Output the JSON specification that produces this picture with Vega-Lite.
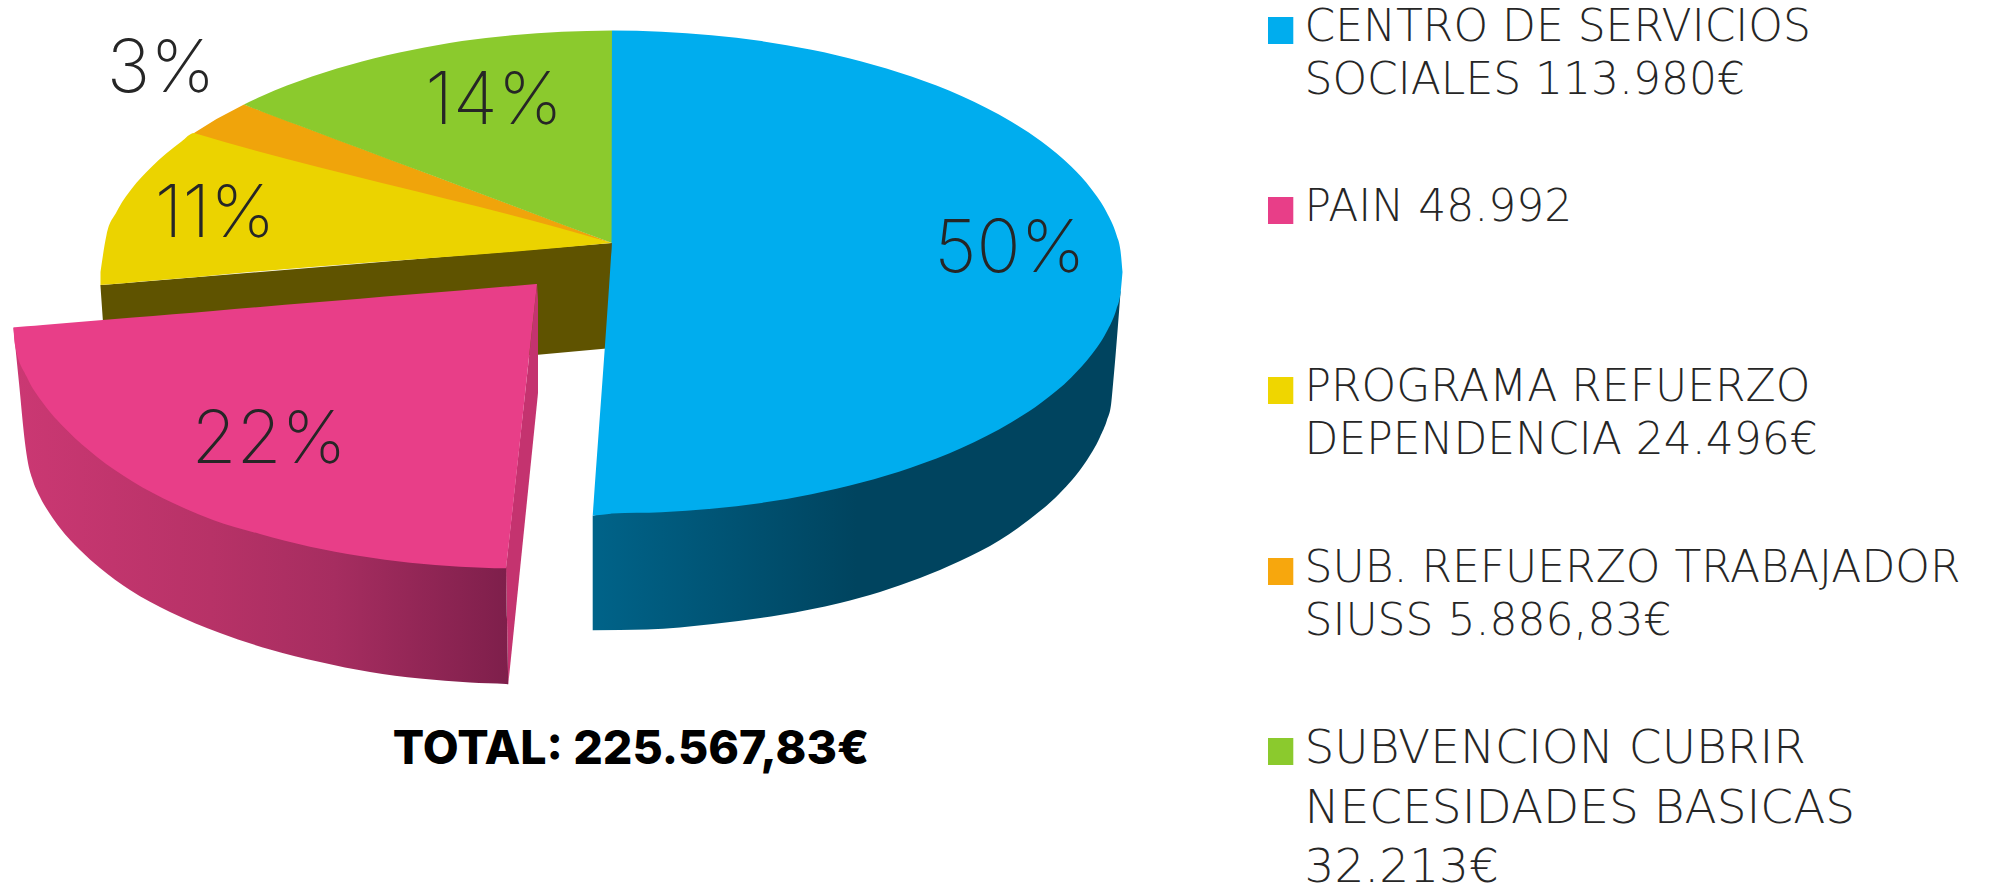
{
"$schema":"https://vega.github.io/schema/vega-lite/v6.json",
"width":1996,"height":885,"padding":0,
"autosize":{"type":"none"},
"background":"white",
"config":{"view":{"stroke":null}},
"datasets":{
"shapes":[
{"p":"dark","x":100.4,"y":285,"y2":285},{"p":"dark","x":108,"y":284.4,"y2":394},{"p":"dark","x":612,"y":243,"y2":348},
{"p":"orange","x":194,"y":133,"y2":140},{"p":"orange","x":216.5,"y":119,"y2":145},{"p":"orange","x":244,"y":104.5,"y2":152},{"p":"orange","x":612,"y":243,"y2":243},
{"p":"yellow","x":100.5,"y":272,"y2":285},{"p":"yellow","x":106.5,"y":235,"y2":284.5},{"p":"yellow","x":116.5,"y":212,"y2":283.7},{"p":"yellow","x":131.5,"y":189,"y2":282.4},{"p":"yellow","x":151.5,"y":167,"y2":280.8},{"p":"yellow","x":181.5,"y":141.5,"y2":278.3},{"p":"yellow","x":194,"y":133,"y2":277.3},{"p":"yellow","x":195,"y":133.3,"y2":277.2},{"p":"yellow","x":611,"y":242.7,"y2":243.1},{"p":"yellow","x":612,"y":243,"y2":243},
{"p":"green","x":244,"y":104.5,"y2":104.5},{"p":"green","x":262,"y":96,"y2":111.8},{"p":"green","x":312,"y":76.5,"y2":130.5},{"p":"green","x":362,"y":61.4,"y2":149.3},{"p":"green","x":412,"y":50,"y2":168.1},{"p":"green","x":462,"y":41,"y2":186.8},{"p":"green","x":512,"y":35.2,"y2":205.6},{"p":"green","x":562,"y":31.7,"y2":224.4},{"p":"green","x":612,"y":30.5,"y2":243},
{"p":"blueside","x":592.7,"y":515.7,"y2":630.3},{"p":"blueside","x":646.7,"y":505,"y2":629.5},{"p":"blueside","x":713,"y":500,"y2":624},{"p":"blueside","x":780,"y":490,"y2":615},{"p":"blueside","x":840,"y":480,"y2":603},{"p":"blueside","x":880,"y":470,"y2":592},{"p":"blueside","x":920,"y":455,"y2":578},{"p":"blueside","x":960,"y":445,"y2":561},{"p":"blueside","x":1000,"y":425,"y2":540},{"p":"blueside","x":1030,"y":405,"y2":519},{"p":"blueside","x":1060,"y":380,"y2":493},{"p":"blueside","x":1085,"y":355,"y2":463},{"p":"blueside","x":1100,"y":335,"y2":437},{"p":"blueside","x":1107,"y":315,"y2":420},{"p":"blueside","x":1111,"y":305,"y2":405},{"p":"blueside","x":1112.5,"y":305,"y2":390},{"p":"blueside","x":1120.7,"y":290,"y2":290},
{"p":"blue","x":592.7,"y":515.7,"y2":515.7},{"p":"blue","x":593.7,"y":501.6,"y2":515.6},{"p":"blue","x":610.9,"y":258.5,"y2":513.7},{"p":"blue","x":611.9,"y":243,"y2":513.6},{"p":"blue","x":612,"y":30.5,"y2":513.5},{"p":"blue","x":661.5,"y":31.7,"y2":512.3},{"p":"blue","x":711.5,"y":35.2,"y2":508.8},{"p":"blue","x":761.5,"y":41.1,"y2":502.9},{"p":"blue","x":811.5,"y":49.8,"y2":494.2},{"p":"blue","x":861.5,"y":61.4,"y2":482.6},{"p":"blue","x":911.5,"y":76.5,"y2":467.5},{"p":"blue","x":961.5,"y":96,"y2":448},{"p":"blue","x":1011.5,"y":121.7,"y2":422.3},{"p":"blue","x":1041.5,"y":141.5,"y2":402.5},{"p":"blue","x":1071.5,"y":166.8,"y2":377.2},{"p":"blue","x":1091.5,"y":189.2,"y2":354.8},{"p":"blue","x":1106.5,"y":212,"y2":332},{"p":"blue","x":1116.5,"y":235.1,"y2":308.9},{"p":"blue","x":1120.5,"y":250.7,"y2":293.3},{"p":"blue","x":1122.5,"y":272,"y2":272},
{"p":"wedge","x":506,"y":568.3,"y2":568.3},{"p":"wedge","x":508.3,"y":547,"y2":684.3},{"p":"wedge","x":537,"y":284,"y2":403},{"p":"wedge","x":538,"y":300,"y2":393},
{"p":"pinkside","x":13.4,"y":327.4,"y2":327.4},{"p":"pinkside","x":19,"y":335,"y2":383},{"p":"pinkside","x":25,"y":345,"y2":443},{"p":"pinkside","x":28,"y":350,"y2":463},{"p":"pinkside","x":32,"y":355,"y2":478},{"p":"pinkside","x":40,"y":370,"y2":497},{"p":"pinkside","x":50,"y":385,"y2":514},{"p":"pinkside","x":60,"y":400,"y2":528},{"p":"pinkside","x":80,"y":420,"y2":550},{"p":"pinkside","x":100,"y":440,"y2":568},{"p":"pinkside","x":130,"y":460,"y2":590},{"p":"pinkside","x":170,"y":485,"y2":612},{"p":"pinkside","x":220,"y":505,"y2":633},{"p":"pinkside","x":270,"y":520,"y2":649.5},{"p":"pinkside","x":320,"y":530,"y2":662},{"p":"pinkside","x":370,"y":540,"y2":672},{"p":"pinkside","x":420,"y":550,"y2":678.5},{"p":"pinkside","x":470,"y":555,"y2":682.5},{"p":"pinkside","x":506,"y":560,"y2":684},{"p":"pinkside","x":507,"y":619,"y2":684.2},{"p":"pinkside","x":508.3,"y":684.3,"y2":684.3},
{"p":"pink","x":13.4,"y":327.4,"y2":327.4},{"p":"pink","x":15,"y":327.3,"y2":345},{"p":"pink","x":26.7,"y":326.3,"y2":376.7},{"p":"pink","x":43,"y":325,"y2":403},{"p":"pink","x":66.7,"y":323,"y2":430},{"p":"pink","x":96.7,"y":320.5,"y2":456.7},{"p":"pink","x":133,"y":317.5,"y2":481.7},{"p":"pink","x":173,"y":314.2,"y2":503},{"p":"pink","x":213,"y":310.9,"y2":520},{"p":"pink","x":260,"y":307,"y2":534},{"p":"pink","x":310,"y":302.8,"y2":546.7},{"p":"pink","x":360,"y":298.7,"y2":556},{"p":"pink","x":410,"y":294.5,"y2":562.7},{"p":"pink","x":460,"y":290.4,"y2":566.7},{"p":"pink","x":506,"y":286.6,"y2":568.3},{"p":"pink","x":507,"y":286.5,"y2":559.5},{"p":"pink","x":536,"y":284.1,"y2":293},{"p":"pink","x":537,"y":284,"y2":284}
],
"keys":[
{"x":1268,"x2":1293.3,"y":17,"y2":44,"k":"#00adee"},
{"x":1268,"x2":1293.3,"y":197,"y2":224,"k":"#e83e88"},
{"x":1268,"x2":1293.3,"y":377,"y2":404,"k":"#efd600"},
{"x":1268,"x2":1293.3,"y":558,"y2":585,"k":"#f7a70d"},
{"x":1268,"x2":1293.3,"y":738,"y2":765,"k":"#8bca2d"}
],
"lines":[
{"x":1304.5,"y":41,"t":"CENTRO DE SERVICIOS"},
{"x":1304.5,"y":94,"t":"SOCIALES 113.980€"},
{"x":1304.5,"y":221,"t":"PAIN 48.992"},
{"x":1304.5,"y":401,"t":"PROGRAMA REFUERZO"},
{"x":1304.5,"y":454,"t":"DEPENDENCIA 24.496€"},
{"x":1304.5,"y":582,"t":"SUB. REFUERZO TRABAJADOR"},
{"x":1304.5,"y":635,"t":"SIUSS 5.886,83€"}
],
"lastlines":[
{"x":1304.5,"y":763,"t":"SUBVENCION CUBRIR"},
{"x":1304.5,"y":823,"t":"NECESIDADES BASICAS"},
{"x":1304.5,"y":882,"t":"32.213€"}
],
"pct":[
{"x":1010,"y":272,"t":"50%"},
{"x":269,"y":463,"t":"22%"},
{"x":494,"y":124,"t":"14%"},
{"x":215,"y":237,"t":"11%"},
{"x":161,"y":92,"t":"3%"}
],
"total":[{"x":631,"y":764,"t":"TOTAL: 225.567,83€"}]
},
"encoding":{
"x":{"field":"x","type":"quantitative","scale":{"domain":[0,1996],"nice":false,"zero":false},"axis":null},
"y":{"field":"y","type":"quantitative","scale":{"domain":[885,0],"nice":false,"zero":false},"axis":null}
},
"layer":[
{"data":{"name":"shapes"},"transform":[{"filter":"datum.p=='dark'"}],"mark":{"type":"area","fill":"#5f5300"},"encoding":{"y2":{"field":"y2"}}},
{"data":{"name":"shapes"},"transform":[{"filter":"datum.p=='orange'"}],"mark":{"type":"area","fill":"#f0a40b"},"encoding":{"y2":{"field":"y2"}}},
{"data":{"name":"shapes"},"transform":[{"filter":"datum.p=='yellow'"}],"mark":{"type":"area","interpolate":"monotone","fill":"#ebd300"},"encoding":{"y2":{"field":"y2"}}},
{"data":{"name":"shapes"},"transform":[{"filter":"datum.p=='green'"}],"mark":{"type":"area","interpolate":"monotone","fill":"#8bca2d"},"encoding":{"y2":{"field":"y2"}}},
{"data":{"name":"shapes"},"transform":[{"filter":"datum.p=='blueside'"}],"mark":{"type":"area","interpolate":"monotone","fill":{"gradient":"linear","x1":0,"x2":1,"y1":0,"y2":0,"stops":[{"offset":0,"color":"#006389"},{"offset":0.5,"color":"#00445f"},{"offset":1,"color":"#00445f"}]}},"encoding":{"y2":{"field":"y2"}}},
{"data":{"name":"shapes"},"transform":[{"filter":"datum.p=='blue'"}],"mark":{"type":"area","interpolate":"monotone","fill":"#00adee"},"encoding":{"y2":{"field":"y2"}}},
{"data":{"name":"shapes"},"transform":[{"filter":"datum.p=='wedge'"}],"mark":{"type":"area","fill":"#c4336f"},"encoding":{"y2":{"field":"y2"}}},
{"data":{"name":"shapes"},"transform":[{"filter":"datum.p=='pinkside'"}],"mark":{"type":"area","interpolate":"monotone","fill":{"gradient":"linear","x1":0,"x2":1,"y1":0,"y2":0,"stops":[{"offset":0,"color":"#cb3873"},{"offset":0.4,"color":"#b73267"},{"offset":0.65,"color":"#a62d60"},{"offset":1,"color":"#7e1f4b"}]}},"encoding":{"y2":{"field":"y2"}}},
{"data":{"name":"shapes"},"transform":[{"filter":"datum.p=='pink'"}],"mark":{"type":"area","interpolate":"monotone","fill":"#e83e88"},"encoding":{"y2":{"field":"y2"}}},
{"data":{"name":"keys"},"mark":{"type":"rect"},"encoding":{"x2":{"field":"x2"},"y2":{"field":"y2"},"color":{"field":"k","type":"nominal","scale":null}}},
{"data":{"name":"lines"},"mark":{"type":"text","align":"left","baseline":"alphabetic","font":"DejaVu Sans","fontWeight":200,"fontSize":44,"fill":"#262626"},"encoding":{"text":{"field":"t"}}},
{"data":{"name":"lastlines"},"mark":{"type":"text","align":"left","baseline":"alphabetic","font":"DejaVu Sans","fontWeight":200,"fontSize":47,"fill":"#262626"},"encoding":{"text":{"field":"t"}}},
{"data":{"name":"pct"},"mark":{"type":"text","align":"center","baseline":"alphabetic","font":"Inter","fontWeight":200,"fontSize":73,"fill":"#262626"},"encoding":{"text":{"field":"t"}}},
{"data":{"name":"total"},"mark":{"type":"text","align":"center","baseline":"alphabetic","font":"Inter","fontWeight":800,"fontSize":46.5,"fill":"#000000"},"encoding":{"text":{"field":"t"}}}
]
}
